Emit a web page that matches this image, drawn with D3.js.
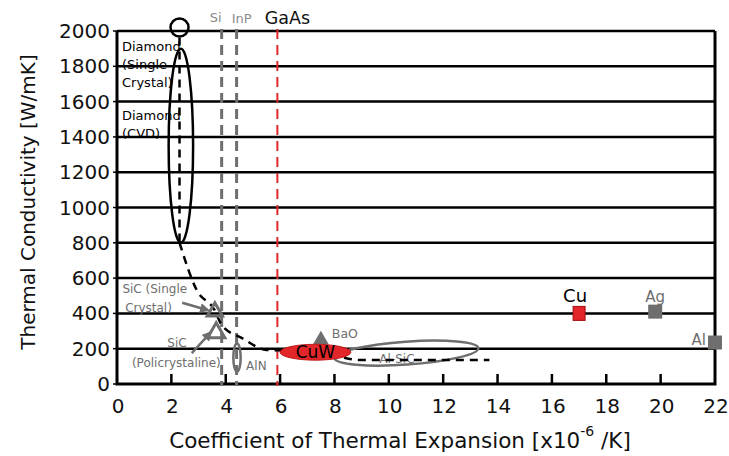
<!DOCTYPE html>
<html>
  <head>
    <title></title>
    <style>
      body, html{
        margin: 0;
        width: 100%;
        height: 100%;
        background: #fff;
      }
      text{
        font-family: "DejaVu Sans", sans-serif;
      }
    </style>
  </head>
  <body>
    <svg id="chart" width="729" height="456"></svg>
    <script src="https://cdnjs.cloudflare.com/ajax/libs/d3/7.8.5/d3.min.js" charset="utf-8"></script>
    <script>
      // axis ticks
      var xTicks = [0, 2, 4, 6, 8, 10, 12, 14, 16, 18, 20, 22]
      var yTicks = [0, 200, 400, 600, 800, 1000, 1200, 1400, 1600, 1800, 2000]

      // substrate reference lines (CTE)
      var refNames = ['Si', 'InP', 'GaAs']
      var refCte = [3.85, 4.4, 5.9]

      // metals (squares)
      var metalNames = ['Cu', 'Ag', 'Al']
      var metalCte = [17.0, 19.8, 22.0]
      var metalK = [400, 410, 235]

      // triangles
      var triNames = ['SiC single', 'SiC poly', 'BaO']
      var triCte = [3.6, 3.65, 7.5]
      var triK = [410, 290, 250]

      // ellipse regions: cte range, k range
      var blobNames = ['Diamond CVD', 'AlN', 'CuW', 'Al-SiC']
      var blobCte = [[1.9, 2.8], [4.28, 4.55], [6.0, 8.6], [8.0, 13.3]]
      var blobK = [[800, 1900], [70, 230], [135, 225], [110, 240]]

      // diamond single crystal
      var diamondCte = 2.3, diamondK = 2020

      // trend line
      var trendCte = [2.3, 2.93, 3.59, 3.85, 4.6, 5.5, 6.1, 7.3, 8.3, 8.9, 13.7]
      var trendK = [800, 533, 419, 334, 260, 193, 190, 180, 150, 136, 136]

      var red = '#e3262a', gray = '#6e6e6e'

      var svg = d3.select('#chart')
      var x = d3.scaleLinear().domain([0, 22]).range([117, 715])
      var y = d3.scaleLinear().domain([0, 2000]).range([384, 31])

      // grid lines
      svg.append('g').selectAll('line').data(yTicks.slice(1)).enter().append('line')
        .attr('x1', x(0)).attr('x2', x(22))
        .attr('y1', function(d){ return y(d) }).attr('y2', function(d){ return y(d) })
        .attr('stroke', '#000').attr('stroke-width', 2.5)

      // y axis labels and ticks
      var ya = svg.append('g')
      ya.selectAll('text').data(yTicks).enter().append('text')
        .attr('x', 110).attr('y', function(d){ return y(d) + 7 })
        .attr('text-anchor', 'end').attr('font-size', 20).attr('fill', '#111')
        .text(function(d){ return d })
      ya.selectAll('line').data(yTicks).enter().append('line')
        .attr('x1', x(0) - 4).attr('x2', x(0))
        .attr('y1', function(d){ return y(d) }).attr('y2', function(d){ return y(d) })
        .attr('stroke', '#000').attr('stroke-width', 1.5)

      // x axis ticks and labels
      var xa = svg.append('g')
      xa.selectAll('line').data(xTicks.slice(1, -1)).enter().append('line')
        .attr('x1', function(d){ return x(d) }).attr('x2', function(d){ return x(d) })
        .attr('y1', y(0)).attr('y2', y(0) - 10)
        .attr('stroke', '#000').attr('stroke-width', 2.5)
      xa.selectAll('text').data(xTicks).enter().append('text')
        .attr('x', function(d){ return x(d) + 1 }).attr('y', 413)
        .attr('text-anchor', 'middle').attr('font-size', 20).attr('fill', '#111')
        .text(function(d){ return d })

      // frame
      svg.append('path')
        .attr('d', 'M' + x(0) + ',' + y(2000) + 'V' + y(0) + 'H' + x(22) + 'V' + y(2000))
        .attr('fill', 'none').attr('stroke', '#000').attr('stroke-width', 3)

      // axis titles
      var xt = svg.append('text').attr('x', 400).attr('y', 448)
        .attr('text-anchor', 'middle').attr('font-size', 21.5).attr('fill', '#111')
      xt.append('tspan').text('Coefficient of Thermal Expansion [x10')
      xt.append('tspan').attr('dy', -12).attr('font-size', 14).text('-6')
      xt.append('tspan').attr('dy', 12).text(' /K]')

      svg.append('text')
        .attr('transform', 'translate(35,202) rotate(-90)')
        .attr('text-anchor', 'middle').attr('font-size', 20).attr('fill', '#111')
        .text('Thermal Conductivity [W/mK]')

      // diamond labels
      var diaLines = [['Diamond', 1885], ['(Single', 1785], ['Crystal)', 1685], ['Diamond', 1495], ['(CVD)', 1395]]
      svg.append('g').selectAll('text').data(diaLines).enter().append('text')
        .attr('x', x(0) + 5).attr('y', function(d){ return y(d[1]) })
        .attr('font-size', 13).attr('fill', '#000')
        .text(function(d){ return d[0] })

      // reference dashed verticals
      refNames.forEach(function(n, i){
        var isRed = n === 'GaAs'
        svg.append('line')
          .attr('x1', x(refCte[i])).attr('x2', x(refCte[i]))
          .attr('y1', y(2000) - 2).attr('y2', y(0) + 2)
          .attr('stroke', isRed ? red : gray).attr('stroke-width', isRed ? 2 : 3)
          .attr('stroke-dasharray', '10,6')
      })
      svg.append('text').attr('x', x(refCte[0]) - 6).attr('y', 22).attr('text-anchor', 'middle')
        .attr('font-size', 13).attr('fill', '#8a8a8a').text('Si')
      svg.append('text').attr('x', x(refCte[1]) + 5).attr('y', 23).attr('text-anchor', 'middle')
        .attr('font-size', 13).attr('fill', '#8a8a8a').text('InP')
      svg.append('text').attr('x', x(refCte[2]) + 10).attr('y', 24).attr('text-anchor', 'middle')
        .attr('font-size', 17.5).attr('fill', '#111').text('GaAs')

      // ellipses
      function ellipse(i){
        var cx = x(d3.mean(blobCte[i])), cy = y(d3.mean(blobK[i]))
        var rx = (x(blobCte[i][1]) - x(blobCte[i][0])) / 2
        var ry = (y(blobK[i][0]) - y(blobK[i][1])) / 2
        return svg.append('ellipse').attr('cx', cx).attr('cy', cy).attr('rx', rx).attr('ry', ry)
      }
      ellipse(0).attr('fill', 'none').attr('stroke', '#000').attr('stroke-width', 2.5)
      ellipse(1).attr('fill', 'none').attr('stroke', gray).attr('stroke-width', 2.5)
      var alsic = ellipse(3).attr('fill', 'none').attr('stroke', gray).attr('stroke-width', 2.5)
      alsic.attr('transform', 'rotate(-4,' + alsic.attr('cx') + ',' + alsic.attr('cy') + ')')
      svg.append('text').attr('x', x(10.3)).attr('y', y(120))
        .attr('text-anchor', 'middle').attr('font-size', 12).attr('fill', gray).text('Al-SiC')

      // trend dashed line
      svg.append('line')
        .attr('x1', x(diamondCte)).attr('x2', x(diamondCte))
        .attr('y1', y(diamondK) + 10).attr('y2', y(800))
        .attr('stroke', '#000').attr('stroke-width', 2.5).attr('stroke-dasharray', '8,6')
      var trend = d3.line()
        .x(function(d){ return x(d[0]) }).y(function(d){ return y(d[1]) })
        .curve(d3.curveMonotoneX)
      svg.append('path')
        .attr('d', trend(d3.zip(trendCte, trendK)))
        .attr('fill', 'none').attr('stroke', '#000').attr('stroke-width', 2.5)
        .attr('stroke-dasharray', '8,6')

      // diamond single crystal circle
      svg.append('circle').attr('cx', x(diamondCte)).attr('cy', y(diamondK)).attr('r', 9)
        .attr('fill', 'none').attr('stroke', '#000').attr('stroke-width', 2.5)

      // BaO triangle (filled)
      var tri = d3.symbol().type(d3.symbolTriangle)
      svg.append('path').attr('d', tri.size(110)())
        .attr('transform', 'translate(' + x(triCte[2]) + ',' + y(triK[2]) + ')')
        .attr('fill', gray)
      svg.append('text').attr('x', x(triCte[2]) + 11).attr('y', y(triK[2]) - 2)
        .attr('font-size', 12.5).attr('fill', gray).text('BaO')

      // CuW
      ellipse(2).attr('fill', red).attr('stroke', '#c01818').attr('stroke-width', 1)
      svg.append('text').attr('x', x(d3.mean(blobCte[2]))).attr('y', y(d3.mean(blobK[2])) + 6)
        .attr('text-anchor', 'middle').attr('font-size', 17).attr('fill', '#000').text('CuW')

      // SiC triangles (open)
      ;[0, 1].forEach(function(i){
        svg.append('path').attr('d', tri.size(i ? 130 : 100)())
          .attr('transform', 'translate(' + x(triCte[i]) + ',' + y(triK[i]) + ')')
          .attr('fill', 'none').attr('stroke', gray).attr('stroke-width', 3)
      })

      // arrows
      svg.append('defs').append('marker').attr('id', 'ah')
        .attr('viewBox', '0 0 10 10').attr('refX', 8).attr('refY', 5)
        .attr('markerWidth', 4).attr('markerHeight', 4).attr('orient', 'auto')
        .append('path').attr('d', 'M0,0L10,5L0,10Z').attr('fill', gray)
      var arrows = [[[2.4, 460], [3.35, 418]], [[2.75, 175], [3.45, 292]]]
      arrows.forEach(function(a){
        svg.append('line')
          .attr('x1', x(a[0][0])).attr('y1', y(a[0][1]))
          .attr('x2', x(a[1][0])).attr('y2', y(a[1][1]))
          .attr('stroke', gray).attr('stroke-width', 2.5).attr('marker-end', 'url(#ah)')
      })
      var sicLabels = [['SiC (Single', 0.2, 515], ['Crystal)', 0.3, 410], ['SiC', 1.85, 210], ['(Policrystaline)', 0.55, 96]]
      svg.append('g').selectAll('text').data(sicLabels).enter().append('text')
        .attr('x', function(d){ return x(d[1]) }).attr('y', function(d){ return y(d[2]) })
        .attr('font-size', 12).attr('fill', gray)
        .text(function(d){ return d[0] })
      svg.append('text').attr('x', x(4.75)).attr('y', y(80))
        .attr('font-size', 12).attr('fill', gray).text('AlN')

      // metal squares
      metalNames.forEach(function(n, i){
        var isCu = n === 'Cu'
        var s = isCu ? 12 : 14
        svg.append('rect')
          .attr('x', x(metalCte[i]) - s / 2).attr('y', y(metalK[i]) - 7)
          .attr('width', s).attr('height', 14)
          .attr('fill', isCu ? red : gray).attr('stroke', isCu ? '#a01010' : 'none')
      })
      svg.append('text').attr('x', x(metalCte[0]) - 4).attr('y', y(metalK[0]) - 11)
        .attr('text-anchor', 'middle').attr('font-size', 18).attr('fill', '#000').text('Cu')
      svg.append('text').attr('x', x(metalCte[1])).attr('y', y(metalK[1]) - 10)
        .attr('text-anchor', 'middle').attr('font-size', 15).attr('fill', gray).text('Ag')
      svg.append('text').attr('x', x(metalCte[2]) - 9).attr('y', y(metalK[2]) + 2)
        .attr('text-anchor', 'end').attr('font-size', 15).attr('fill', gray).text('Al')
    </script>
  </body>
</html>
